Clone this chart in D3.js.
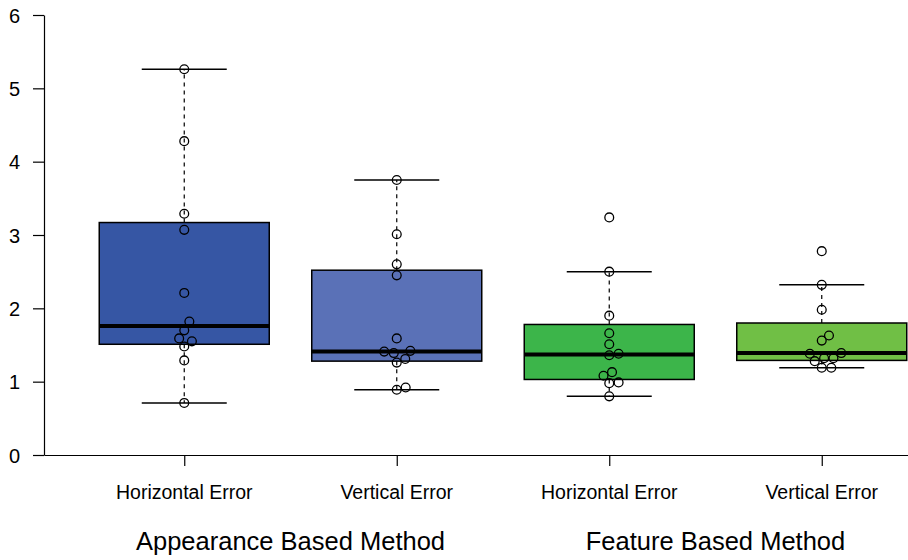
<!DOCTYPE html>
<html lang="en">
<head>
    <meta charset="UTF-8">
    <title>Error Boxplot</title>
    <style>
        body { margin: 0; background: #fff; }
        svg { display: block; font-family: "Liberation Sans", Arial, Helvetica, sans-serif; }
    </style>
    <script src="https://d3js.org/d3.v7.min.js"></script>
</head>
<body>
    <script>
        // categories and groups
        let categories = ["Horizontal Error", "Vertical Error", "Horizontal Error", "Vertical Error"];
        let groups = ["Appearance Based Method", "Feature Based Method"];
        let colors = ["#3656a4", "#5a71b7", "#3cb54a", "#70bf45"];
        let yTicks = [0, 1, 2, 3, 4, 5, 6];

        // box stats per category: lower whisker, q1, median, q3, upper whisker
        let whiskerLow = [0.71, 0.89, 0.80, 1.19];
        let q1 = [1.51, 1.28, 1.03, 1.29];
        let medians = [1.76, 1.41, 1.37, 1.39];
        let q3 = [3.17, 2.52, 1.78, 1.80];
        let whiskerHigh = [5.26, 3.75, 2.50, 2.32];

        // raw observations (stripchart), with small jitter in category units
        let appHoriz = [5.26, 4.28, 3.29, 3.07, 2.21, 1.82, 1.70, 1.59, 1.55, 1.48, 1.29, 0.71];
        let appHorizJit = [0, 0, 0, 0, 0, 0.024, 0, -0.024, 0.036, 0, 0, 0];
        let appVert = [3.75, 3.01, 2.60, 2.45, 1.59, 1.41, 1.39, 1.42, 1.31, 1.26, 0.89, 0.92];
        let appVertJit = [0, 0, 0, 0, 0, -0.059, -0.014, 0.064, 0.040, 0, 0, 0.042];
        let featHoriz = [3.24, 2.50, 1.90, 1.66, 1.51, 1.36, 1.38, 1.13, 1.08, 0.98, 0.99, 0.80];
        let featHorizJit = [0, 0, 0, 0, 0, 0, 0.044, 0.013, -0.027, 0, 0.044, 0];
        let featVert = [2.78, 2.32, 1.98, 1.63, 1.56, 1.38, 1.39, 1.32, 1.32, 1.28, 1.19, 1.19];
        let featVertJit = [0, 0, 0, 0.034, 0, -0.056, 0.092, 0.011, 0.055, -0.033, 0, 0.045];

        let points = [
            [appHoriz, appHorizJit],
            [appVert, appVertJit],
            [featHoriz, featHorizJit],
            [featVert, featVertJit]
        ];

        let width = 908, height = 560;

        let svg = d3.select("body")
            .append("svg")
            .attr("width", width)
            .attr("height", height);

        // R style axis range: positions 1..4, extended 4% beyond 0.5..4.5
        let x = d3.scaleLinear().domain([0.34, 4.66]).range([44, 962]);
        let y = d3.scaleLinear().domain([0, 6]).range([455, 15]);

        let boxW = 0.8, capW = 0.4;

        let boxes = categories.map((c, i) => ({
            i: i, pos: i + 1, lo: whiskerLow[i], q1: q1[i], med: medians[i], q3: q3[i], hi: whiskerHigh[i]
        }));

        let g = svg.append("g");

        // whiskers (dashed)
        g.selectAll(".whisk-up").data(boxes).enter().append("line")
            .attr("x1", d => x(d.pos)).attr("x2", d => x(d.pos))
            .attr("y1", d => y(d.q3)).attr("y2", d => y(d.hi))
            .attr("stroke", "#000").attr("stroke-width", 1.2).attr("stroke-dasharray", "4,4");
        g.selectAll(".whisk-dn").data(boxes).enter().append("line")
            .attr("x1", d => x(d.pos)).attr("x2", d => x(d.pos))
            .attr("y1", d => y(d.q1)).attr("y2", d => y(d.lo))
            .attr("stroke", "#000").attr("stroke-width", 1.2).attr("stroke-dasharray", "4,4");

        // caps
        ["hi", "lo"].forEach(k => {
            g.selectAll(".cap-" + k).data(boxes).enter().append("line")
                .attr("x1", d => x(d.pos - capW / 2)).attr("x2", d => x(d.pos + capW / 2))
                .attr("y1", d => y(d[k])).attr("y2", d => y(d[k]))
                .attr("stroke", "#000").attr("stroke-width", 1.5);
        });

        // boxes
        g.selectAll(".box").data(boxes).enter().append("rect")
            .attr("x", d => x(d.pos - boxW / 2))
            .attr("width", d => x(d.pos + boxW / 2) - x(d.pos - boxW / 2))
            .attr("y", d => y(d.q3))
            .attr("height", d => y(d.q1) - y(d.q3))
            .attr("fill", d => colors[d.i])
            .attr("stroke", "#000").attr("stroke-width", 1.5);

        // medians
        g.selectAll(".med").data(boxes).enter().append("line")
            .attr("x1", d => x(d.pos - boxW / 2)).attr("x2", d => x(d.pos + boxW / 2))
            .attr("y1", d => y(d.med)).attr("y2", d => y(d.med))
            .attr("stroke", "#000").attr("stroke-width", 4);

        // points
        let pts = [];
        points.forEach((p, i) => {
            p[0].forEach((v, j) => pts.push({ pos: i + 1 + p[1][j], v: v }));
        });
        g.selectAll(".pt").data(pts).enter().append("circle")
            .attr("cx", d => x(d.pos)).attr("cy", d => y(d.v))
            .attr("r", 4.4)
            .attr("fill", "none").attr("stroke", "#000").attr("stroke-width", 1.3);

        // y axis
        let yAxis = svg.append("g")
            .attr("transform", "translate(44,0)")
            .call(d3.axisLeft(y).tickValues(yTicks).tickFormat(d3.format("d"))
                .tickSize(11).tickPadding(13).tickSizeOuter(0));
        yAxis.select(".domain").attr("stroke-width", 1.2);
        yAxis.selectAll("line").attr("stroke-width", 1.2);
        yAxis.selectAll("text").style("font-size", "20px").attr("fill", "#000").attr("dy", "0.36em");

        // x axis
        let xAxis = svg.append("g")
            .attr("transform", "translate(0,455)")
            .call(d3.axisBottom(x).tickValues([1, 2, 3, 4]).tickSize(11).tickSizeOuter(0).tickFormat(""));
        xAxis.select(".domain").attr("stroke-width", 1.2);
        xAxis.selectAll("line").attr("stroke-width", 1.2);

        // category labels
        svg.selectAll(".cat").data(categories).enter().append("text")
            .attr("x", (d, i) => x(i + 1))
            .attr("y", 499)
            .attr("text-anchor", "middle")
            .style("font-size", "19.5px")
            .text(d => d);

        // group labels
        svg.selectAll(".grp").data(groups).enter().append("text")
            .attr("x", (d, i) => x(i * 2 + 1.5))
            .attr("y", 550)
            .attr("text-anchor", "middle")
            .style("font-size", "25.5px")
            .text(d => d);
    </script>
</body>
</html>
